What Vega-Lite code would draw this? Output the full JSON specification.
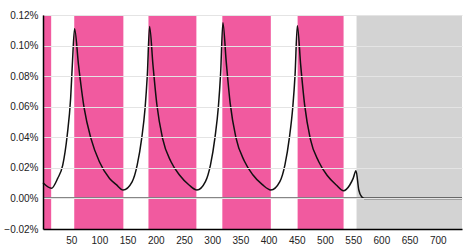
{
  "$schema": "https://vega.github.io/schema/vega-lite/v6.json",
  "width": 419,
  "height": 214,
  "autosize": {"type": "none"},
  "padding": {"left": 43, "top": 15, "right": 2, "bottom": 22},
  "background": "white",
  "config": {
    "view": {"stroke": null},
    "font": "Liberation Sans",
    "axis": {"labelFont": "Liberation Sans", "labelFontSize": 10, "labelColor": "#222", "ticks": false, "title": null, "labelOverlap": false, "labelFlush": false, "labelBound": false}
  },
  "datasets": {
    "bands": [
      {"start": 0, "end": 14.5, "kind": "pink"},
      {"start": 55.4, "end": 142.5, "kind": "pink"},
      {"start": 187, "end": 272, "kind": "pink"},
      {"start": 318, "end": 404, "kind": "pink"},
      {"start": 451.5, "end": 533, "kind": "pink"},
      {"start": 556, "end": 743, "kind": "gray"}
    ],
    "series": [
      {"x": 0, "y": 0.000102},
      {"x": 15, "y": 0.000066},
      {"x": 26, "y": 0.000131},
      {"x": 35, "y": 0.000218},
      {"x": 43, "y": 0.000415},
      {"x": 49, "y": 0.000655},
      {"x": 52, "y": 0.000873},
      {"x": 56, "y": 0.00111},
      {"x": 63, "y": 0.000873},
      {"x": 73, "y": 0.00059},
      {"x": 85, "y": 0.000393},
      {"x": 100, "y": 0.00024},
      {"x": 118, "y": 0.000131},
      {"x": 130, "y": 0.00009},
      {"x": 142, "y": 0.000055},
      {"x": 158, "y": 0.000109},
      {"x": 167, "y": 0.000218},
      {"x": 175, "y": 0.000393},
      {"x": 181, "y": 0.00059},
      {"x": 185, "y": 0.000807},
      {"x": 189, "y": 0.001125},
      {"x": 195, "y": 0.000873},
      {"x": 202, "y": 0.000611},
      {"x": 212, "y": 0.000393},
      {"x": 227, "y": 0.00024},
      {"x": 242, "y": 0.000153},
      {"x": 259, "y": 0.000088},
      {"x": 273, "y": 0.000055},
      {"x": 288, "y": 0.00011},
      {"x": 297, "y": 0.00022},
      {"x": 305, "y": 0.0004},
      {"x": 311, "y": 0.0006},
      {"x": 315, "y": 0.00082},
      {"x": 319, "y": 0.00115},
      {"x": 325, "y": 0.00089},
      {"x": 332, "y": 0.00062},
      {"x": 342, "y": 0.0004},
      {"x": 357, "y": 0.000245},
      {"x": 372, "y": 0.000155},
      {"x": 389, "y": 0.00009},
      {"x": 404, "y": 0.000055},
      {"x": 420, "y": 0.00011},
      {"x": 429, "y": 0.00022},
      {"x": 437, "y": 0.0004},
      {"x": 443, "y": 0.0006},
      {"x": 447, "y": 0.00081},
      {"x": 451, "y": 0.00113},
      {"x": 457, "y": 0.00087},
      {"x": 464, "y": 0.00061},
      {"x": 474, "y": 0.00039},
      {"x": 489, "y": 0.00024},
      {"x": 504, "y": 0.00015},
      {"x": 520, "y": 0.000088},
      {"x": 533, "y": 0.00005},
      {"x": 544, "y": 0.000088},
      {"x": 550, "y": 0.000131},
      {"x": 555, "y": 0.000181},
      {"x": 560, "y": 0.000055},
      {"x": 565, "y": 0.000011},
      {"x": 570, "y": 0},
      {"x": 743, "y": 0}
    ]
  },
  "layer": [
    {
      "data": {"name": "bands"},
      "mark": {"type": "rect"},
      "encoding": {
        "x": {"field": "start", "type": "quantitative", "scale": {"domain": [0, 743], "nice": false, "zero": false},
              "axis": {"values": [50,100,150,200,250,300,350,400,450,500,550,600,650,700], "labelOverlap": false, "domainColor": "#000", "domainWidth": 1.5, "grid": false, "labelPadding": 6, "zindex": 1}},
        "x2": {"field": "end"},
        "color": {"field": "kind", "type": "nominal", "scale": {"domain": ["pink", "gray"], "range": ["#f15a9f", "#d3d3d3"]}, "legend": null}
      }
    },
    {
      "data": {"name": "series"},
      "mark": {"type": "rule", "color": "#8a8a8a", "strokeWidth": 1},
      "encoding": {"y": {"datum": 0, "type": "quantitative", "scale": {"domain": [-0.0002, 0.0012], "nice": false, "zero": false},
              "axis": {"values": [-0.0002, 0, 0.0002, 0.0004, 0.0006, 0.0008, 0.001, 0.0012], "labelOverlap": false, "format": ".2%", "domainColor": "#000", "domainWidth": 1.5, "grid": true, "gridColor": "#e4e4e4", "labelPadding": 5, "zindex": 1}}}
    },
    {
      "data": {"name": "series"},
      "mark": {"type": "line", "color": "#111", "strokeWidth": 1.5, "interpolate": "monotone"},
      "encoding": {
        "x": {"field": "x", "type": "quantitative", "scale": {"domain": [0, 743], "nice": false, "zero": false},
              "axis": {"values": [50,100,150,200,250,300,350,400,450,500,550,600,650,700], "labelOverlap": false, "domainColor": "#000", "domainWidth": 1.5, "grid": false, "labelPadding": 6, "zindex": 1}},
        "y": {"field": "y", "type": "quantitative", "scale": {"domain": [-0.0002, 0.0012], "nice": false, "zero": false},
              "axis": {"values": [-0.0002, 0, 0.0002, 0.0004, 0.0006, 0.0008, 0.001, 0.0012], "labelOverlap": false, "format": ".2%", "domainColor": "#000", "domainWidth": 1.5, "grid": true, "gridColor": "#e4e4e4", "labelPadding": 5, "zindex": 1}}
      }
    }
  ]
}
